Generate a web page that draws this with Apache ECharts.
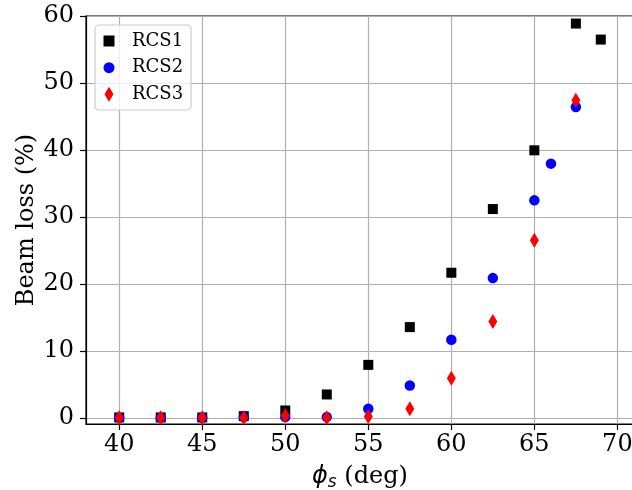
<!DOCTYPE html>
<html>
<head>
<meta charset="utf-8">
<script src="https://cdn.jsdelivr.net/npm/echarts@6/dist/echarts.min.js"></script>
<style>html,body{margin:0;padding:0;background:#fff}#c{width:632px;height:490px}</style>
</head>
<body>
<div id="c"></div>
<script>
// Data
var phiRCS1 = [40, 42.5, 45, 47.5, 50, 52.5, 55, 57.5, 60, 62.5, 65, 67.5, 69];
var lossRCS1 = [0.05, 0.05, 0.05, 0.24, 1.09, 3.48, 7.9, 13.54, 21.66, 31.17, 39.94, 58.87, 56.48];
var phiRCS2 = [40, 42.5, 45, 47.5, 50, 52.5, 55, 57.5, 60, 62.5, 65, 66, 67.5];
var lossRCS2 = [0, 0, 0, 0.1, 0.1, 0.1, 1.34, 4.83, 11.65, 20.86, 32.47, 37.95, 46.4];
var phiRCS3 = [40, 42.5, 45, 47.5, 50, 52.5, 55, 57.5, 60, 62.5, 65, 67.5];
var lossRCS3 = [0, 0, 0, 0, 0.3, 0, 0.2, 1.34, 5.92, 14.39, 26.5, 47.4];
var xTicks = [40, 45, 50, 55, 60, 65, 70];
var yTicks = [0, 10, 20, 30, 40, 50, 60];
var seriesNames = ['RCS1', 'RCS2', 'RCS3'];

function pairs(xs, ys) { return xs.map(function (x, i) { return [x, ys[i]]; }); }

var SERIF = 'DejaVu Serif';
var chart = echarts.init(document.getElementById('c'), null, { renderer: 'canvas' });

// legend icon centred at x=109, label text starting at x=132
function legendFor(name, icon, centerY, w, h) {
  return {
    data: [{ name: name, icon: icon }],
    orient: 'vertical', left: 109 - w / 2, top: centerY - 9, padding: 0,
    itemWidth: w, itemHeight: h, symbolKeepAspect: false,
    selectedMode: false,
    textStyle: { fontFamily: SERIF, fontSize: 18, lineHeight: 18, color: '#000', padding: [0, 0, 0, 18 - w / 2] }
  };
}

chart.setOption({
  animation: false,
  grid: { left: 86, right: -2, top: 16, bottom: 66, outerBoundsMode: 'none', containLabel: false, show: true, borderColor: '#000', borderWidth: 1.2, backgroundColor: 'transparent' },
  xAxis: {
    type: 'value', min: 38, max: 71,
    name: '{i|ϕ}{sub|s}{t| (deg)}', nameLocation: 'middle', nameGap: 39, nameMoveOverlap: false,
    nameTextStyle: {
      rich: {
        i: { fontFamily: 'DejaVu Sans', fontStyle: 'italic', fontSize: 24, color: '#000' },
        sub: { fontFamily: 'DejaVu Sans', fontStyle: 'italic', fontSize: 17, color: '#000', padding: [11, 0, 0, 0] },
        t: { fontFamily: SERIF, fontSize: 24, color: '#000' }
      }
    },
    axisLine: { show: true, onZero: false, lineStyle: { color: '#000', width: 1.2 } },
    axisTick: { show: true, inside: false, length: 6, lineStyle: { color: '#000', width: 1.2 }, customValues: xTicks },
    axisLabel: { fontFamily: SERIF, fontSize: 24, color: '#000', margin: 9, customValues: xTicks },
    splitLine: { show: true, lineStyle: { color: '#b0b0b0', width: 1.2 } }
  },
  yAxis: {
    type: 'value', min: -0.93, max: 60,
    name: 'Beam loss (%)', nameLocation: 'middle', nameGap: 47, nameMoveOverlap: false,
    nameTextStyle: { fontFamily: SERIF, fontSize: 24, color: '#000' },
    axisLine: { show: true, onZero: false, lineStyle: { color: '#000', width: 1.2 } },
    axisTick: { show: true, inside: false, length: 6, lineStyle: { color: '#000', width: 1.2 }, customValues: yTicks },
    axisLabel: { fontFamily: SERIF, fontSize: 24, color: '#000', margin: 12, customValues: yTicks },
    splitLine: { show: true, lineStyle: { color: '#b0b0b0', width: 1.2 } }
  },
  graphic: [{
    type: 'rect', z: 3,
    shape: { x: 95, y: 25, width: 96, height: 85, r: 4 },
    style: { fill: 'rgba(255,255,255,0.8)', stroke: '#cccccc', lineWidth: 1.2 }
  }],
  legend: [
    legendFor(seriesNames[0], 'rect', 41, 11, 11),
    legendFor(seriesNames[1], 'circle', 67.7, 11, 11),
    legendFor(seriesNames[2], 'diamond', 94.3, 9, 15)
  ],
  series: [
    { name: seriesNames[0], type: 'scatter', symbol: 'rect', symbolSize: 10, itemStyle: { color: '#000000', opacity: 1 }, data: pairs(phiRCS1, lossRCS1), z: 2 },
    { name: seriesNames[1], type: 'scatter', symbol: 'circle', symbolSize: 10.5, itemStyle: { color: '#0000ff', opacity: 1 }, data: pairs(phiRCS2, lossRCS2), z: 2 },
    { name: seriesNames[2], type: 'scatter', symbol: 'diamond', symbolSize: [9, 15], itemStyle: { color: '#ff0000', opacity: 1 }, data: pairs(phiRCS3, lossRCS3), z: 2 }
  ]
});
</script>
</body>
</html>
